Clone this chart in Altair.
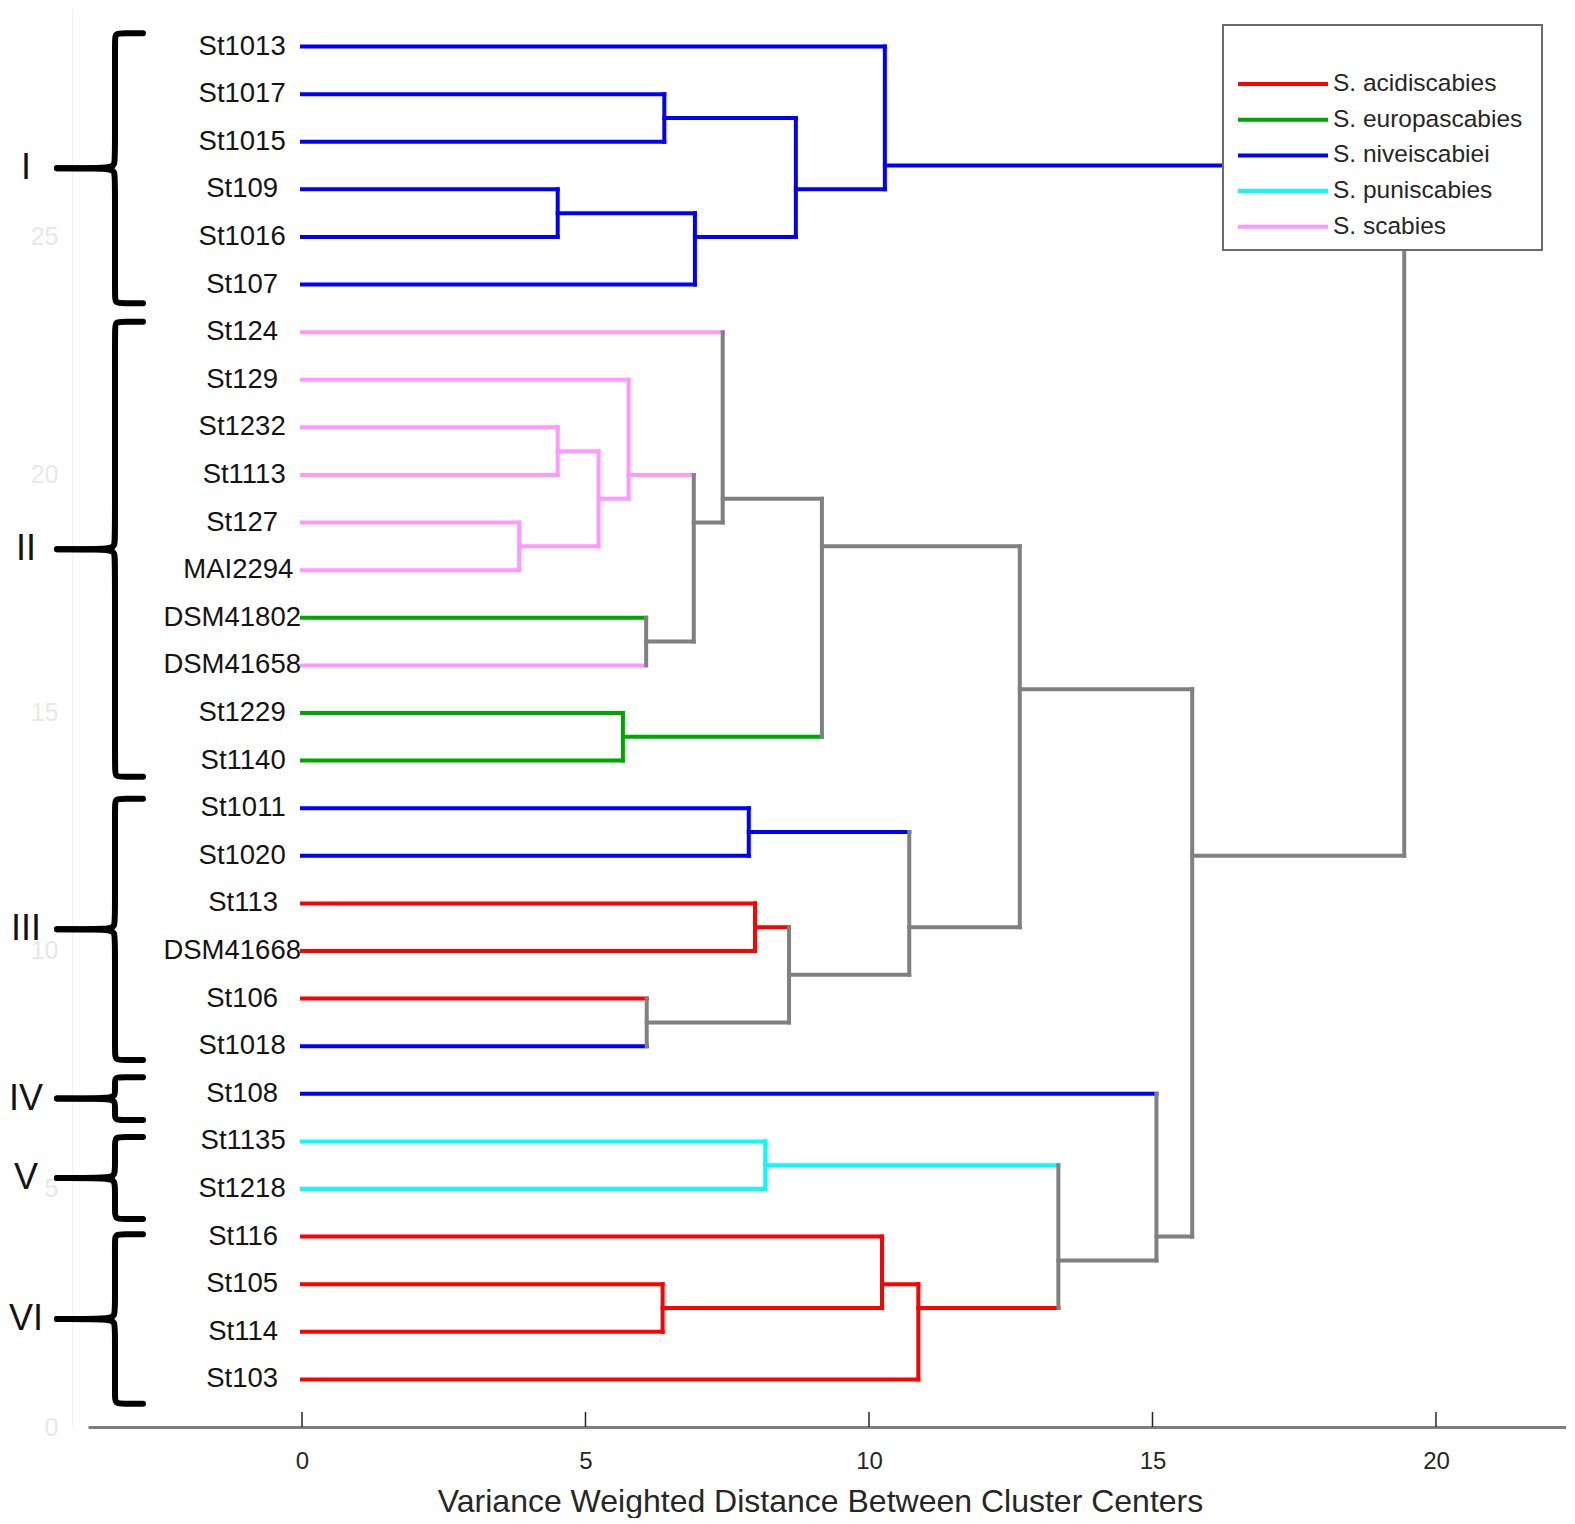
import altair as alt
import pandas as pd

FONT = "Liberation Sans"

# ---------------- data ----------------
leaf_names = ["St1013", "St1017", "St1015", "St109", "St1016", "St107",
              "St124", "St129", "St1232", "St1113", "St127", "MAI2294",
              "DSM41802", "DSM41658", "St1229", "St1140",
              "St1011", "St1020", "St113", "DSM41668", "St106", "St1018",
              "St108", "St1135", "St1218", "St116", "St105", "St114", "St103"]
leaf_species = ["S. niveiscabiei"] * 6 + \
    ["S. scabies"] * 6 + ["S. europascabies", "S. scabies", "S. europascabies", "S. europascabies"] + \
    ["S. niveiscabiei", "S. niveiscabiei", "S. acidiscabies", "S. acidiscabies", "S. acidiscabies", "S. niveiscabiei"] + \
    ["S. niveiscabiei", "S. puniscabies", "S. puniscabies",
     "S. acidiscabies", "S. acidiscabies", "S. acidiscabies", "S. acidiscabies"]

# merges (node k is called "n{k+1}")
merge_left = ["St1017", "St109", "n2", "n1", "St1013",
              "St1232", "St127", "n6", "St129", "DSM41802", "n9", "St124", "St1229", "n12",
              "St1011", "St113", "St106", "n16", "n15", "n14",
              "St1135", "St105", "St116", "n23", "n21", "St108", "n20", "n5"]
merge_right = ["St1015", "St1016", "St107", "n3", "n4",
               "St1113", "MAI2294", "n7", "n8", "DSM41658", "n10", "n11", "St1140", "n13",
               "St1020", "DSM41668", "St1018", "n17", "n18", "n19",
               "St1218", "St114", "n22", "St103", "n24", "n25", "n26", "n27"]
merge_height = [6.39, 4.51, 6.93, 8.71, 10.28,
                4.51, 3.83, 5.23, 5.76, 6.07, 6.91, 7.42, 5.66, 9.17,
                7.88, 7.99, 6.08, 8.59, 10.71, 12.66,
                8.17, 6.36, 10.23, 10.87, 13.34, 15.07, 15.70, 19.44]

species = ["S. acidiscabies", "S. europascabies", "S. niveiscabiei", "S. puniscabies", "S. scabies"]
species_colors = ["#FF0000", "#00A600", "#0000FF", "#00FFFF", "#FF99FF"]
link_color = "#808080"

group_names = ["I", "II", "III", "IV", "V", "VI"]
group_top = [29.28, 23.22, 13.20, 7.35, 6.09, 4.05]
group_bottom = [23.61, 13.66, 7.71, 6.45, 4.37, 0.49]

x_ticks = [0, 5, 10, 15, 20]

# ---------------- tree layout ----------------
n_leaves = len(leaf_names)
ypos, height, members, col = {}, {}, {}, {}
for i, (nm, sp) in enumerate(zip(leaf_names, leaf_species)):
    ypos[nm] = n_leaves - i
    height[nm] = 0.0
    members[nm] = [nm]
    col[nm] = sp
sp_of = dict(zip(leaf_names, leaf_species))

segs = []
for k, (a, b, h) in enumerate(zip(merge_left, merge_right, merge_height)):
    node = f"n{k + 1}"
    members[node] = members[a] + members[b]
    ypos[node] = sum(ypos[m] for m in members[node]) / len(members[node])
    height[node] = h
    sps = {sp_of[m] for m in members[node]}
    col[node] = sps.pop() if len(sps) == 1 else "link"
    for c in (a, b):
        segs.append(dict(xa=height[c], xb=h, ya=ypos[c], yb=ypos[c], col=col[c]))
    segs.append(dict(xa=h, xb=h, ya=ypos[a], yb=ypos[b], col=col[node]))
seg_df = pd.DataFrame(segs)

# plot geometry
W, H = 1478, 1419
X_DOM = [-3.774, 22.293]
Y_DOM = [0.0, 29.81]
PX_PER_UNIT = W / (X_DOM[1] - X_DOM[0])
LABEL_SIZE = 27.5
SPACE_W = 0.2778 * LABEL_SIZE / PX_PER_UNIT  # labels are padded to 8 chars (char-matrix labels)
leaf_df = pd.DataFrame(dict(
    label=leaf_names,
    lx=[-(8 - len(nm)) * SPACE_W for nm in leaf_names],
    y=[ypos[nm] for nm in leaf_names]))

# curly braces
XV, XTIP, XSTUB, XNUM = -3.298, -2.804, -4.321, -4.868
pts = []
for g, t, b in zip(group_names, group_top, group_bottom):
    m = (t + b) / 2
    half = (t - b) / 2
    rc = min(0.16, half / 4)
    rm = min(0.30, half / 3)
    for side, end, sgn in (("u", t, 1), ("l", b, -1)):
        seq = [(XTIP, end), (XV + 0.16, end), (XV, end), (XV, end - sgn * rc),
               (XV, m + sgn * rm), (XV, m + sgn * 0.06), (XV - 0.10, m), (XSTUB, m)]
        for i, (px, py) in enumerate(seq):
            pts.append(dict(key=g + side, i=i, bx=px, by=py))
brace_df = pd.DataFrame(pts)
num_df = pd.DataFrame(dict(name=group_names,
                           xn=[XNUM] * len(group_names),
                           ym=[(t + b) / 2 for t, b in zip(group_top, group_bottom)]))
tick_df = pd.DataFrame(dict(t=x_ticks))

# ---------------- scales / axes ----------------
xs = alt.Scale(domain=X_DOM, nice=False, zero=False)
ys = alt.Scale(domain=Y_DOM, nice=False, zero=False)
xaxis = alt.Axis(values=x_ticks, ticks=False, grid=False, domainColor="#7f7f7f", domainWidth=3,
                 labelFontSize=24, labelColor="#262626", labelFont=FONT, labelPadding=22,
                 title="Variance Weighted Distance Between Cluster Centers",
                 titleFontSize=32, titleFont=FONT, titleFontWeight="normal",
                 titleColor="#262626", titlePadding=13, titleX=732, titleAlign="center")
yaxis = alt.Axis(values=[0, 5, 10, 15, 20, 25], ticks=False, grid=False,
                 domainColor="#f0f0f0", domainWidth=1, labelFontSize=25,
                 labelColor="#e8e8e8", labelFont=FONT, labelPadding=14, offset=16, title=None)


def X(f):
    return alt.X(f, type="quantitative", scale=xs, axis=xaxis)


def Y(f):
    return alt.Y(f, type="quantitative", scale=ys, axis=yaxis)


cscale = alt.Scale(domain=species + ["link"], range=species_colors + [link_color])

tree = alt.Chart(seg_df).mark_rule(strokeWidth=4, strokeCap="square").encode(
    x=X("xa"), x2="xb", y=Y("ya"), y2="yb",
    color=alt.Color("col:N", scale=cscale, legend=None))

ticks = alt.Chart(tick_df).mark_rule(color="#262626", strokeWidth=1.5).encode(
    x=X("t"), y=alt.value(H - 15), y2=alt.value(H))

labels = alt.Chart(leaf_df).mark_text(align="right", baseline="middle", dx=-1, fontSize=LABEL_SIZE,
                                      font=FONT, color="#141414").encode(
    x=X("lx"), y=Y("y"), text="label:N")

braces = alt.Chart(brace_df).mark_line(color="black", strokeWidth=6, interpolate="basis",
                                       strokeCap="round").encode(
    x=X("bx"), y=Y("by"), detail="key:N", order=alt.Order("i:Q"))

numerals = alt.Chart(num_df).mark_text(align="center", baseline="middle", fontSize=36,
                                       font=FONT, color="#141414").encode(
    x=X("xn"), y=Y("ym"), text="name:N")

one = alt.Data(values=[{"a": 1}])
legend_box = alt.Chart(one).mark_rect(fill="white", stroke="#6b6b6b", strokeWidth=2).encode(
    x=alt.value(1135), x2=alt.value(1454), y=alt.value(17), y2=alt.value(242))

legend_layers = []
for i, (sp, c) in enumerate(zip(species, species_colors)):
    py = 76 + i * 35.7
    legend_layers.append(alt.Chart(one).mark_rule(color=c, strokeWidth=4).encode(
        x=alt.value(1150), x2=alt.value(1240), y=alt.value(py)))
    legend_layers.append(alt.Chart(one).mark_text(align="left", baseline="middle", fontSize=24.5,
                                                  font=FONT, color="#262626").encode(
        x=alt.value(1245), y=alt.value(py), text=alt.value(sp)))

chart = alt.layer(tree, ticks, labels, braces, numerals, legend_box, *legend_layers).properties(
    width=W, height=H,
    autosize=alt.AutoSizeParams(type="none"),
    padding={"left": 80, "top": 0, "right": 0, "bottom": 91},
).configure_view(stroke=None)

chart.save("out.html", embed_options={"renderer": "svg", "actions": False})
